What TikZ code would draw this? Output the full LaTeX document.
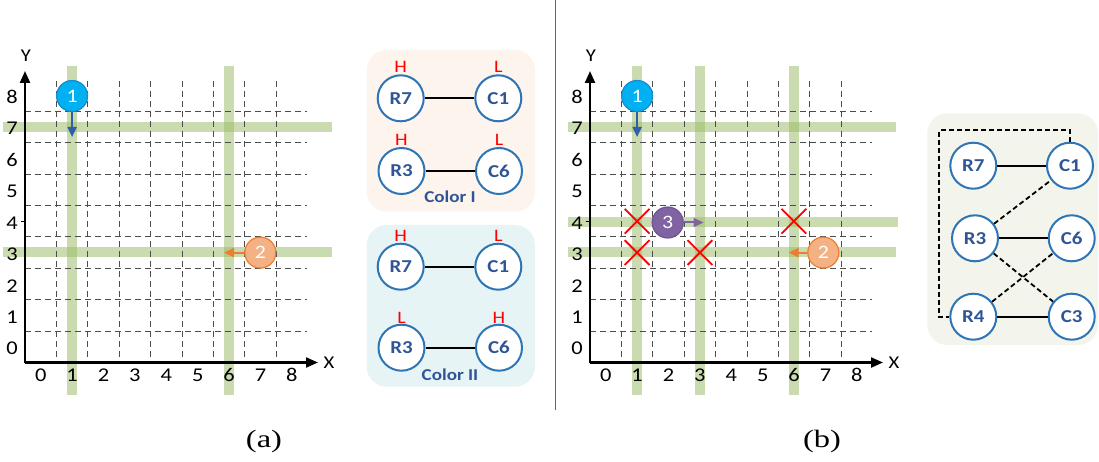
\documentclass[tikz,border=0pt]{standalone}
\usepackage{fontspec}
\setmainfont{Carlito}[FakeStretch=1.15]
\newfontfamily\capfont{Liberation Serif}[FakeStretch=1.3]
\usetikzlibrary{arrows.meta,shapes.misc}
\definecolor{gbar}{RGB}{150,185,95}
\definecolor{vblue}{RGB}{46,117,182}
\definecolor{vtext}{RGB}{47,85,151}
\definecolor{cyanm}{RGB}{0,176,240}
\definecolor{cyanb}{RGB}{20,140,210}
\definecolor{arrblue}{RGB}{46,95,168}
\definecolor{orgfill}{RGB}{244,177,131}
\definecolor{orgline}{RGB}{237,125,49}
\definecolor{purfill}{RGB}{128,100,162}
\definecolor{purline}{RGB}{110,84,148}
\definecolor{boxI}{RGB}{253,244,238}
\definecolor{boxII}{RGB}{230,244,246}
\definecolor{boxIII}{RGB}{243,245,236}
\tikzset{
  gridline/.style={dash pattern=on 6pt off 4pt, line width=0.9pt, black!70},
  bar/.style={line width=10pt, draw=gbar, draw opacity=0.5},
  axisline/.style={line width=2.2pt, -{Triangle[length=12pt,width=10pt]}},
  num/.style={font=\fontsize{19.5}{19.5}\selectfont, inner sep=0pt},
  mv/.style={circle, minimum size=31pt, inner sep=0pt, line width=1.2pt, text=white, font=\fontsize{19}{19}\selectfont},
  mvarrow/.style={line width=2pt, -{Triangle[length=10pt,width=9pt]}},
  vtx/.style={circle, draw=vblue, line width=2pt, fill=white, minimum size=46pt, inner sep=0pt, text=vtext, font=\bfseries\fontsize{18.2}{18.2}\selectfont},
  hl/.style={text=red, font=\fontsize{17.5}{17.5}\selectfont, inner sep=0pt},
  boxlabel/.style={text=vtext, font=\bfseries\fontsize{16.6}{16.6}\selectfont, inner sep=0pt},
  xmark/.style={cross out, draw=red, line width=1.8pt, minimum size=23pt, inner sep=0pt},
  solidedge/.style={line width=1.8pt, black},
  dashedge/.style={line width=1.8pt, black, dash pattern=on 5pt off 3pt},
}
\newcommand{\mygrid}[1]{%
  % grid lines
  \foreach \k in {1,...,8} {
    \draw[gridline] ({25+31.4*\k},81) -- ({25+31.4*\k},362.5);
    \draw[gridline] (25,{362.5-31.4*\k}) -- (306.7,{362.5-31.4*\k});
  }
  % axes
  \coordinate (#1o) at (25,362.5);
  \coordinate (#1yt) at (25,71);
  \coordinate (#1xt) at (318,362.5);
  \draw[axisline] (#1o) -- (#1yt);
  \draw[axisline] (#1o) -- (#1xt);
  \coordinate (#1tk) at (21,221.2);
  \coordinate (#1tk2) at (25,221.2);
  \draw[line width=1pt] (#1tk) -- (#1tk2);
  \node[num, font=\fontsize{18}{18}\selectfont] (#1ylab) at (26,56) {Y};
  \node[num, font=\fontsize{18}{18}\selectfont] (#1xlab) at (329,362.5) {X};
  \foreach \i in {0,...,8} {
    \node[num] (#1xn\i) at ({40.7+31.4*\i},375) {\i};
    \node[num] (#1yn\i) at (12,{348.5-31.4*\i}) {\i};
  }
}
\begin{document}
\begin{tikzpicture}[x=1pt,y=-1pt]
\useasboundingbox (0,0) rectangle (1099,462);

% ================= (a) left grid =================
\draw[bar] (72.1,66) -- (72.1,395);
\draw[bar] (228.9,66) -- (228.9,395);
\draw[bar] (3,127.5) -- (332,127.5);
\draw[bar] (3,251.5) -- (332,251.5);
\mygrid{a}
\node[mv, fill=cyanm, draw=cyanb] (a1) at (72.1,96) {1};
\coordinate (a1e) at (72.1,137);
\draw[mvarrow, arrblue] (a1.south) -- (a1e);
\node[mv, fill=orgfill, draw=orgline] (a2) at (260.3,252.6) {2};
\coordinate (a2e) at (224,252.6);
\draw[mvarrow, orgline] (a2.west) -- (a2e);

% ================= colour boxes =================
\fill[boxI, rounded corners=20pt] (366.7,50) rectangle (535,211.7);
\fill[boxII, rounded corners=20pt] (366.7,225) rectangle (535,386.7);

\node[vtx] (cR7) at (400.7,98.3) {R7};
\node[vtx] (cC1) at (498.3,98.3) {C1};
\node[vtx] (cR3) at (401.5,171) {R3};
\node[vtx] (cC6) at (499,171) {C6};
\draw[solidedge] (cR7) -- (cC1);
\draw[solidedge] (cR3) -- (cC6);
\node[hl] (hR7) at (400.7,66.7) {H};
\node[hl] (hC1) at (498.3,66.7) {L};
\node[hl] (hR3) at (401.5,140) {H};
\node[hl] (hC6) at (499,140) {L};
\node[boxlabel] (cI) at (450,196.5) {Color I};

\node[vtx] (dR7) at (400.7,266.7) {R7};
\node[vtx] (dC1) at (498.3,266.7) {C1};
\node[vtx] (dR3) at (401.5,347.7) {R3};
\node[vtx] (dC6) at (499,347.7) {C6};
\draw[solidedge] (dR7) -- (dC1);
\draw[solidedge] (dR3) -- (dC6);
\node[hl] (gR7) at (400.7,235.7) {H};
\node[hl] (gC1) at (498.3,235.7) {L};
\node[hl] (gR3) at (401.5,318.3) {L};
\node[hl] (gC6) at (499,318.3) {H};
\node[boxlabel] (cII) at (450,375) {Color II};

% divider
\coordinate (dv1) at (555,0);
\coordinate (dv2) at (555,410);
\draw[line width=0.8pt, black!60] (dv1) -- (dv2);

% ================= (b) right grid =================
\begin{scope}[xshift=565pt]
\draw[bar] (72.1,66) -- (72.1,395);
\draw[bar] (134.9,66) -- (134.9,395);
\draw[bar] (228.9,66) -- (228.9,395);
\draw[bar] (3,127.5) -- (331,127.5);
\draw[bar] (3,221.7) -- (333,221.7);
\draw[bar] (3,251.5) -- (331,251.5);
\mygrid{b}
\node[xmark] (x1) at (72.1,221.2) {};
\node[xmark] (x2) at (72.1,252.6) {};
\node[xmark] (x3) at (134.9,252.6) {};
\node[xmark] (x4) at (228.9,221.2) {};
\node[mv, fill=cyanm, draw=cyanb] (b1) at (72.1,96) {1};
\coordinate (b1e) at (72.1,137);
\draw[mvarrow, arrblue] (b1.south) -- (b1e);
\node[mv, fill=purfill, draw=purline] (b3) at (102.7,222.5) {3};
\coordinate (b3e) at (138.5,222.5);
\draw[mvarrow, purfill] (b3.east) -- (b3e);
\node[mv, fill=orgfill, draw=orgline] (b2) at (258.3,252.6) {2};
\coordinate (b2e) at (223.5,252.6);
\draw[mvarrow, orgline] (b2.west) -- (b2e);
\end{scope}

% ================= conflict graph =================
\fill[boxIII, rounded corners=20pt] (927.3,113.3) rectangle (1098,345);
\node[vtx] (R7) at (973.3,165.7) {R7};
\node[vtx] (C1) at (1070,165.7) {C1};
\node[vtx] (R3) at (975,238.3) {R3};
\node[vtx] (C6) at (1071.7,238.3) {C6};
\node[vtx] (R4) at (973.3,316.7) {R4};
\node[vtx] (C3) at (1071.7,316.7) {C3};
\draw[solidedge] (R7) -- (C1);
\draw[solidedge] (R3) -- (C6);
\draw[solidedge] (R4) -- (C3);
\draw[dashedge] (R3) -- (C1);
\draw[dashedge] (R3) -- (C3);
\draw[dashedge] (R4) -- (C6);
\coordinate (lp) at (939.3,130);
\draw[dashedge] (C1.north) |- (lp) |- (R4.west);

% captions
\node[font=\capfont\fontsize{25}{25}\selectfont, inner sep=0pt] (capa) at (264,441) {(a)};
\node[font=\capfont\fontsize{25}{25}\selectfont, inner sep=0pt] (capb) at (822,441) {(b)};
\end{tikzpicture}
\end{document}
